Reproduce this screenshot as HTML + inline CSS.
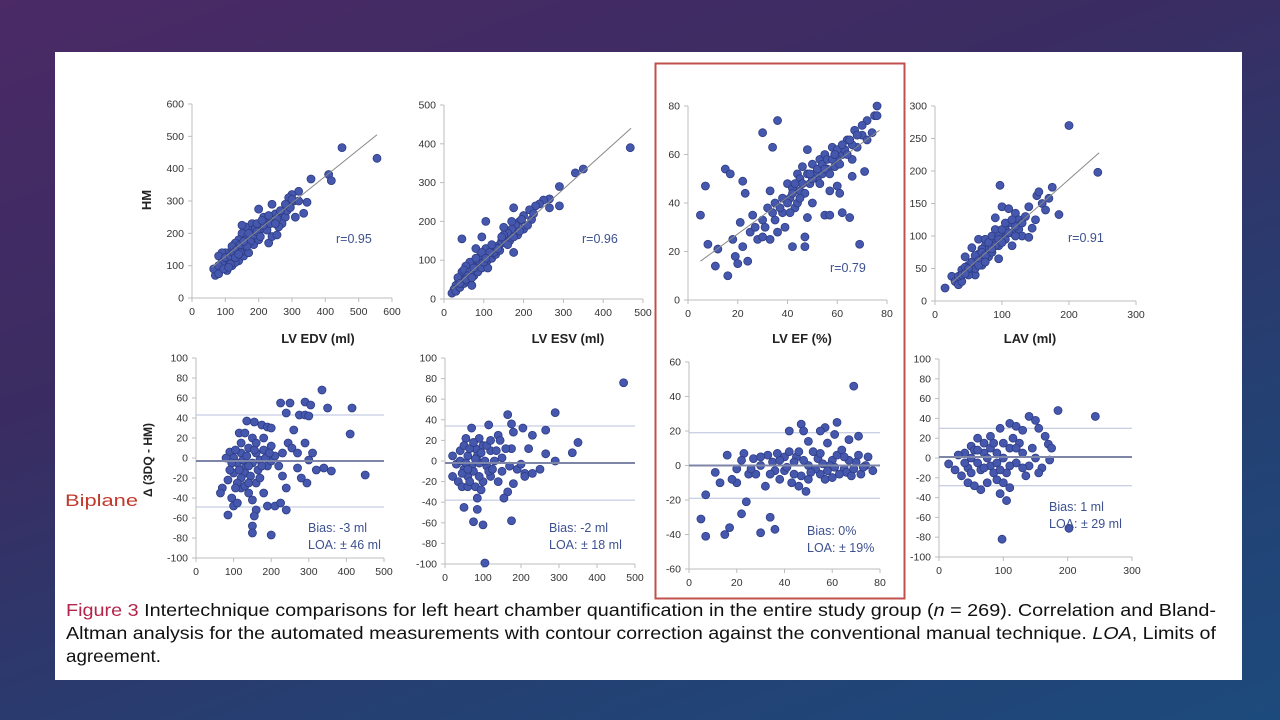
<!DOCTYPE html>
<html><head><meta charset="utf-8"><style>
html,body{margin:0;padding:0;width:1280px;height:720px;overflow:hidden}
body{background:linear-gradient(160deg,#4b2a66 0%,#3a2c62 35%,#253f72 70%,#1d4a7c 100%);font-family:"Liberation Sans",sans-serif}
svg{position:absolute;left:0;top:0}
</style></head><body>
<svg id="fig" width="1280" height="720">
<rect x="55" y="52" width="1187" height="628" fill="#ffffff"/>
<rect x="655.5" y="63.5" width="249" height="535" fill="none" stroke="#c0504d" stroke-width="2"/>
<text x="0" y="0" transform="translate(151,200) rotate(-90)" text-anchor="middle" font-size="13" font-weight="bold" fill="#222">HM</text>
<text x="0" y="0" transform="translate(152,460) rotate(-90)" text-anchor="middle" font-size="12" font-weight="bold" fill="#222">Δ (3DQ - HM)</text>
<text x="65" y="506" font-size="17" fill="#c0392b" textLength="73" lengthAdjust="spacingAndGlyphs">Biplane</text>
<text x="318" y="343" text-anchor="middle" font-size="13" font-weight="bold" fill="#222">LV EDV (ml)</text>
<text x="568" y="343" text-anchor="middle" font-size="13" font-weight="bold" fill="#222">LV ESV (ml)</text>
<text x="802" y="343" text-anchor="middle" font-size="13" font-weight="bold" fill="#222">LV EF (%)</text>
<text x="1030" y="343" text-anchor="middle" font-size="13" font-weight="bold" fill="#222">LAV (ml)</text>
<text x="66" y="616" font-size="17.5" fill="#111" textLength="1150" lengthAdjust="spacingAndGlyphs"><tspan fill="#b3254a">Figure 3</tspan>  Intertechnique comparisons for left heart chamber quantification in the entire study group (<tspan font-style="italic">n</tspan> = 269). Correlation and Bland-</text>
<text x="66" y="639" font-size="17.5" fill="#111" textLength="1150" lengthAdjust="spacingAndGlyphs">Altman analysis for the automated measurements with contour correction against the conventional manual technique. <tspan font-style="italic">LOA</tspan>, Limits of</text>
<text x="66" y="662" font-size="17.5" fill="#111" textLength="95" lengthAdjust="spacingAndGlyphs">agreement.</text>
</svg>
<script>
// ---- data ----
const edvPts=[[450,465],[555,432],[410,382],[418,363],[357,368],[345,296],[335,262],[320,330],[300,320],[290,310],[305,300],[290,290],[240,290],[200,275],[230,170],[240,190],[255,195],[270,260],[280,250],[310,250],[270,230],[250,260],[260,220],[220,240],[215,250],[180,230],[180,210],[160,220],[150,225],[150,200],[140,180],[130,170],[200,200],[210,215],[190,185],[170,170],[160,150],[175,195],[140,150],[120,160],[110,140],[100,140],[90,140],[80,130],[95,115],[100,100],[85,95],[75,85],[70,70],[65,90],[110,120],[125,120],[135,135],[120,100],[140,115],[155,130],[160,180],[185,165],[200,180],[225,210],[245,235],[285,270],[295,280],[320,300],[80,75],[105,85],[130,110],[150,160],[170,140],[190,215],[230,255],[90,110],[100,125],[115,130],[125,140],[135,150],[145,165],[165,185],[175,175],[185,195],[195,205],[205,190],[215,225],[235,230],[255,245],[265,270],[280,290],[300,305],[115,105],[130,125],[145,140],[165,160],[80,100],[95,90],[110,95],[140,135],[155,175],[170,200],[195,230],[210,240],[250,230]];
const esvPts=[[468,390],[350,335],[330,325],[290,290],[290,240],[265,258],[265,235],[250,255],[240,245],[230,240],[215,230],[220,205],[200,215],[190,200],[180,190],[175,235],[170,180],[175,120],[160,170],[150,165],[145,150],[140,140],[130,135],[120,125],[105,200],[95,160],[45,155],[80,130],[100,115],[110,100],[90,95],[80,90],[70,80],[60,75],[55,65],[50,60],[45,50],[40,45],[35,40],[30,35],[25,25],[20,15],[30,20],[40,30],[50,40],[60,45],[70,35],[75,60],[85,70],[95,80],[110,80],[120,105],[130,115],[140,125],[155,145],[165,150],[185,165],[200,180],[65,95],[55,85],[45,70],[105,130],[125,120],[150,185],[35,55],[50,75],[65,70],[75,80],[85,100],[90,110],[100,95],[115,120],[135,130],[145,160],[160,140],[175,160],[190,175],[210,190],[60,60],[40,40],[55,50],[70,55],[80,105],[95,120],[105,105],[120,140],[170,200],[195,205],[225,220]];
const efPts=[[5,35],[7,47],[8,23],[11,14],[12,21],[15,54],[17,52],[16,10],[18,25],[19,18],[20,15],[21,32],[22,49],[23,44],[22,22],[24,16],[25,28],[27,30],[28,25],[30,69],[30,33],[32,38],[33,45],[34,63],[35,40],[36,74],[36,28],[38,36],[40,48],[41,42],[42,22],[43,38],[44,52],[45,45],[46,55],[47,22],[47,26],[48,62],[48,34],[49,48],[50,40],[50,56],[52,50],[53,58],[54,52],[55,35],[55,60],[57,35],[57,45],[58,63],[59,55],[60,47],[61,44],[62,36],[62,60],[64,66],[65,34],[66,58],[66,51],[67,70],[68,63],[69,23],[70,68],[71,53],[72,74],[74,69],[75,76],[76,80],[76,76],[30,26],[33,25],[26,35],[38,42],[42,46],[45,50],[51,52],[56,54],[60,58],[63,62],[39,30],[35,33],[44,40],[40,40],[42,44],[46,48],[48,52],[50,50],[52,54],[54,56],[56,58],[58,58],[60,62],[62,64],[64,60],[66,64],[43,48],[47,44],[49,52],[53,48],[57,52],[61,56],[45,42],[37,38],[34,36],[31,30],[41,36],[55,54],[59,60],[65,66],[68,68],[70,72],[72,66]];
const lavPts=[[15,20],[25,38],[30,30],[35,25],[40,48],[40,30],[45,68],[50,55],[55,45],[55,82],[60,60],[60,40],[65,72],[65,95],[70,70],[70,55],[75,85],[75,95],[80,80],[80,68],[85,90],[85,75],[90,110],[90,128],[95,65],[97,178],[100,145],[100,100],[105,95],[110,142],[110,120],[115,85],[115,105],[120,135],[125,125],[125,110],[130,100],[135,130],[140,145],[140,98],[145,112],[150,125],[152,162],[155,168],[160,150],[165,140],[170,158],[175,175],[185,133],[200,270],[243,198],[50,40],[35,38],[45,52],[60,50],[70,80],[90,95],[95,85],[105,110],[120,115],[40,40],[50,50],[55,60],[60,70],[65,62],[70,75],[75,70],[80,90],[85,100],[90,85],[95,100],[100,110],[105,120],[110,105],[115,125],[120,100],[130,120],[45,42],[65,55],[75,60],[85,80],[95,95],[100,90]];
const edvBA=[[335,68],[225,55],[250,55],[290,56],[305,53],[350,50],[415,50],[240,45],[275,43],[290,43],[300,42],[135,37],[155,36],[175,33],[190,31],[200,30],[260,28],[410,24],[115,25],[130,25],[90,6],[100,0],[110,-5],[120,5],[130,-10],[140,10],[150,-5],[160,5],[170,-2],[180,8],[190,-8],[200,-3],[210,2],[220,-8],[230,5],[245,15],[255,10],[270,5],[290,15],[300,-2],[310,5],[320,-12],[340,-10],[360,-13],[450,-17],[295,-25],[240,-30],[230,-18],[70,-30],[65,-35],[85,-22],[95,-40],[100,-48],[110,-45],[120,-30],[140,-35],[150,-42],[160,-52],[155,-58],[150,-68],[150,-75],[200,-77],[190,-48],[210,-48],[225,-45],[240,-52],[85,-57],[130,-15],[160,-25],[180,-35],[100,-15],[120,-20],[140,-8],[270,-10],[280,-20],[180,20],[200,12],[150,20],[95,-5],[105,8],[115,-12],[125,-2],[135,2],[145,-18],[155,8],[165,-12],[175,-8],[185,0],[195,5],[110,-25],[130,-28],[170,-20],[90,-12],[105,-30],[160,15],[120,15],[80,0],[140,-25]];
const esvBA=[[470,76],[290,47],[165,45],[175,36],[180,28],[115,35],[70,32],[205,32],[265,30],[230,25],[140,25],[145,20],[55,22],[90,22],[350,18],[335,8],[265,7],[290,0],[220,12],[175,12],[160,12],[120,10],[100,15],[80,12],[60,5],[20,5],[30,-3],[40,0],[50,-8],[70,-5],[90,-2],[110,-5],[130,0],[150,3],[170,-5],[190,-8],[210,-12],[230,-12],[250,-8],[200,-3],[20,-15],[35,-20],[45,-25],[60,-15],[80,-25],[100,-20],[120,-15],[140,-20],[180,-22],[210,-15],[165,-30],[155,-36],[85,-36],[50,-45],[85,-47],[75,-59],[100,-62],[175,-58],[105,-99],[60,-25],[95,-28],[40,10],[50,15],[65,12],[75,18],[85,5],[95,8],[105,0],[115,-10],[125,-8],[135,10],[45,-12],[55,-2],[65,-20],[75,-10],[90,-15],[110,15],[120,20],[150,-10],[60,-8],[80,2]];
const efBA=[[69,46],[47,24],[62,25],[57,22],[42,20],[55,20],[61,18],[48,20],[71,17],[67,15],[50,14],[58,13],[16,6],[23,7],[75,5],[77,-3],[11,-4],[13,-10],[7,-17],[5,-31],[7,-41],[15,-40],[17,-36],[22,-28],[24,-21],[30,-39],[34,-30],[36,-37],[49,-15],[20,-2],[25,-5],[30,0],[35,2],[40,-3],[45,5],[50,0],[55,-5],[60,3],[65,-2],[70,2],[72,-5],[27,4],[33,6],[38,-8],[43,-10],[47,-6],[52,8],[57,-8],[62,6],[66,-4],[20,-10],[28,-5],[32,-12],[40,5],[44,2],[53,-2],[59,0],[64,9],[68,-6],[74,0],[46,-12],[36,-3],[18,-8],[22,3],[38,3],[41,-1],[44,-5],[48,3],[51,-4],[54,4],[56,1],[58,-3],[61,-1],[63,-5],[67,3],[69,-2],[71,6],[73,-1],[42,8],[46,8],[50,-8],[55,7],[60,-7],[65,5],[30,5],[26,-2],[34,-5],[37,7]];
const lavBA=[[185,48],[243,42],[140,42],[150,38],[155,30],[95,30],[110,35],[120,32],[130,28],[165,22],[170,14],[175,10],[172,-2],[160,-10],[155,-15],[60,20],[80,22],[70,15],[50,12],[40,5],[30,3],[15,-6],[25,-12],[35,-18],[45,-25],[55,-28],[65,-32],[75,-25],[90,-22],[100,-25],[110,-30],[95,-36],[105,-43],[98,-82],[202,-71],[50,0],[60,-5],[70,5],[80,-8],[90,5],[100,0],[110,10],[120,-5],[130,5],[140,-8],[115,20],[125,15],[85,-15],[65,-12],[45,-10],[135,-18],[105,-15],[75,0],[55,8],[60,8],[70,-10],[80,10],[90,-5],[100,15],[110,-8],[120,10],[130,-10],[85,15],[95,-12],[40,-5],[50,-15],[145,10],[150,0]];
const regEdv=[[60,95],[555,505]];
const regEsv=[[20,25],[470,440]];
const regEf=[[5,16],[77,70]];
const regLav=[[25,28],[245,228]];
const baEdv=[-3,43,-49];
const baEsv=[-2,34,-38];
const baEf=[0,19,-19];
const baLav=[1,30,-28];
const ticksEdv=[0,100,200,300,400,500,600];
const ticksEsv=[0,100,200,300,400,500];
const ticksEf=[0,20,40,60,80];
const ticksLav=[0,100,200,300];
const ticksLavY=[0,50,100,150,200,250,300];
const ticksBA=[-100,-80,-60,-40,-20,0,20,40,60,80,100];
const ticksEfBA=[-60,-40,-20,0,20,40,60];

const NS='http://www.w3.org/2000/svg';
const svg=document.getElementById('fig');
function mk(tag,attrs,parent){const e=document.createElementNS(NS,tag);for(const k in attrs)e.setAttribute(k,attrs[k]);(parent||svg).appendChild(e);return e;}

function chart(o){
  const g=mk('g',{});
  
  
  const sx=v=>o.x0+(v-o.xd[0])/(o.xd[1]-o.xd[0])*(o.x1-o.x0);
  const sy=v=>o.y0+(v-o.yd[0])/(o.yd[1]-o.yd[0])*(o.y1-o.y0);
  const ax=mk('path',{d:`M${o.x0},${o.y1} V${o.y0} H${o.x1}`,fill:'none',stroke:'#bdbdbd','stroke-width':1},g);
  
  
  const xAxisY=o.y0;
  o.xt.forEach(v=>{
    mk('line',{x1:sx(v),x2:sx(v),y1:xAxisY,y2:xAxisY+4,stroke:'#bdbdbd'},g);
    const t=mk('text',{x:sx(v),y:xAxisY+17,'text-anchor':'middle','font-size':10.5,fill:'#333'},g);
    t.textContent=v;
    
    
  });
  o.yt.forEach(v=>{
    mk('line',{x1:o.x0-4,x2:o.x0,y1:sy(v),y2:sy(v),stroke:'#bdbdbd'},g);
    const t=mk('text',{x:o.x0-8,y:sy(v)+3.5,'text-anchor':'end','font-size':10.5,fill:'#333'},g);
    t.textContent=v;
    
    
  });
  if(o.ba){
    const [b,u,l]=o.ba;
    [u,l].forEach(v=>{const ln=mk('line',{x1:o.x0,x2:o.x1,y1:sy(v),y2:sy(v),stroke:'#b8c0dc','stroke-width':1},g);
      
      });
  }
  o.pts.forEach(p=>{
    const c=mk('circle',{cx:sx(p[0]),cy:sy(p[1]),r:4,fill:'#4558ad',stroke:'#2e3c85','stroke-width':0.8},g);
    
    
  });
  if(o.reg){
    const r=o.reg;
    const ln=mk('line',{x1:sx(r[0][0]),y1:sy(r[0][1]),x2:sx(r[1][0]),y2:sy(r[1][1]),stroke:'#888','stroke-width':1},g);
    
    
  }
  if(o.ba){
    const ln=mk('line',{x1:o.x0,x2:o.x1,y1:sy(o.ba[0]),y2:sy(o.ba[0]),stroke:'#7d86a8','stroke-width':2},g);
    
    
  }
  o.notes.forEach((s,i)=>{
    const t=mk('text',{x:o.nx,y:o.ny+i*17,'font-size':12.5,fill:'#3d5190'},g);
    t.textContent=s;
    
    
  });
}
chart({name:'edv-correlation',x0:192,x1:392,y0:298,y1:104,xd:[0,600],yd:[0,600],xt:ticksEdv,yt:ticksEdv,pts:edvPts,reg:regEdv,notes:['r=0.95'],nx:336,ny:243});
chart({name:'esv-correlation',x0:444,x1:643,y0:299,y1:105,xd:[0,500],yd:[0,500],xt:ticksEsv,yt:ticksEsv,pts:esvPts,reg:regEsv,notes:['r=0.96'],nx:582,ny:243});
chart({name:'ef-correlation',x0:688,x1:887,y0:300,y1:106,xd:[0,80],yd:[0,80],xt:ticksEf,yt:ticksEf,pts:efPts,reg:regEf,notes:['r=0.79'],nx:830,ny:272});
chart({name:'lav-correlation',x0:935,x1:1136,y0:301,y1:106,xd:[0,300],yd:[0,300],xt:ticksLav,yt:ticksLavY,pts:lavPts,reg:regLav,notes:['r=0.91'],nx:1068,ny:242});
chart({name:'edv-bland-altman',x0:196,x1:384,y0:558,y1:358,xd:[0,500],yd:[-100,100],xt:ticksEsv,yt:ticksBA,pts:edvBA,ba:baEdv,notes:['Bias: -3 ml','LOA: ± 46 ml'],nx:308,ny:532});
chart({name:'esv-bland-altman',x0:445,x1:635,y0:564,y1:358,xd:[0,500],yd:[-100,100],xt:ticksEsv,yt:ticksBA,pts:esvBA,ba:baEsv,notes:['Bias: -2 ml','LOA: ± 18 ml'],nx:549,ny:532});
chart({name:'ef-bland-altman',x0:689,x1:880,y0:569,y1:362,xd:[0,80],yd:[-60,60],xt:ticksEf,yt:ticksEfBA,pts:efBA,ba:baEf,notes:['Bias: 0%','LOA: ± 19%'],nx:807,ny:535});
chart({name:'lav-bland-altman',x0:939,x1:1132,y0:557,y1:359,xd:[0,300],yd:[-100,100],xt:ticksLav,yt:ticksBA,pts:lavBA,ba:baLav,notes:['Bias: 1 ml','LOA: ± 29 ml'],nx:1049,ny:511});
</script>
</body></html>
